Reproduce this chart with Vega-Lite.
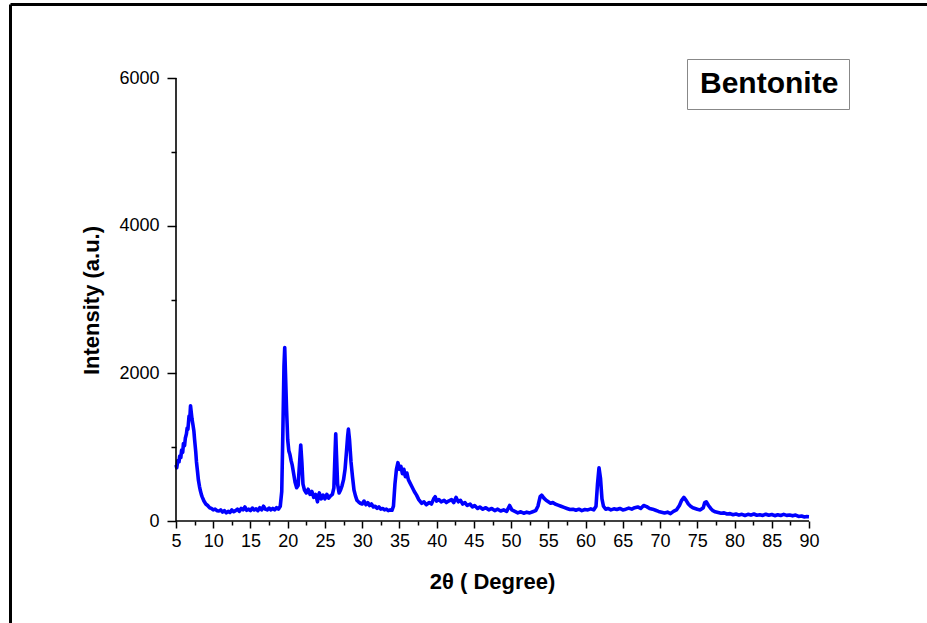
{
  "$schema": "https://vega.github.io/schema/vega-lite/v6.json",
  "width": 917,
  "height": 619,
  "autosize": {"type": "none"},
  "padding": {"left": 10, "top": 4, "right": 0, "bottom": 0},
  "background": "white",
  "config": {"view": {"stroke": null}, "font": "Liberation Sans", "axis": {"grid": false}},
  "datasets": {
    "xrd": [
      {"t":5.0,"i":760},{"t":5.1,"i":720},{"t":5.25,"i":820},{"t":5.4,"i":800},{"t":5.5,"i":880},{"t":5.65,"i":860},{"t":5.75,"i":960},{"t":5.9,"i":930},{"t":6.0,"i":1050},{"t":6.15,"i":1020},{"t":6.25,"i":1120},{"t":6.4,"i":1180},{"t":6.5,"i":1260},{"t":6.6,"i":1240},{"t":6.75,"i":1420},{"t":6.85,"i":1380},{"t":6.95,"i":1560},{"t":7.05,"i":1470},{"t":7.15,"i":1380},{"t":7.25,"i":1320},{"t":7.4,"i":1220},{"t":7.5,"i":1100},{"t":7.65,"i":940},{"t":7.75,"i":800},{"t":7.9,"i":660},{"t":8.0,"i":560},{"t":8.15,"i":470},{"t":8.25,"i":420},{"t":8.4,"i":360},{"t":8.5,"i":330},{"t":8.75,"i":270},{"t":9.0,"i":230},{"t":9.25,"i":210},{"t":9.5,"i":180},{"t":9.75,"i":170},{"t":10.0,"i":150},{"t":10.25,"i":160},{"t":10.5,"i":140},{"t":10.75,"i":135},{"t":11.0,"i":150},{"t":11.25,"i":120},{"t":11.5,"i":140},{"t":11.75,"i":110},{"t":12.0,"i":130},{"t":12.25,"i":115},{"t":12.5,"i":150},{"t":12.75,"i":125},{"t":13.0,"i":140},{"t":13.25,"i":160},{"t":13.5,"i":130},{"t":13.75,"i":170},{"t":14.0,"i":150},{"t":14.25,"i":190},{"t":14.5,"i":145},{"t":14.75,"i":160},{"t":15.0,"i":140},{"t":15.25,"i":175},{"t":15.5,"i":150},{"t":15.75,"i":165},{"t":16.0,"i":140},{"t":16.25,"i":180},{"t":16.5,"i":150},{"t":16.75,"i":200},{"t":17.0,"i":160},{"t":17.25,"i":150},{"t":17.5,"i":175},{"t":17.75,"i":150},{"t":18.0,"i":170},{"t":18.25,"i":150},{"t":18.5,"i":180},{"t":18.75,"i":160},{"t":19.0,"i":200},{"t":19.2,"i":400},{"t":19.35,"i":1200},{"t":19.5,"i":2100},{"t":19.6,"i":2350},{"t":19.7,"i":2000},{"t":19.85,"i":1500},{"t":20.0,"i":1100},{"t":20.15,"i":950},{"t":20.3,"i":900},{"t":20.45,"i":820},{"t":20.6,"i":760},{"t":20.8,"i":640},{"t":21.0,"i":520},{"t":21.2,"i":450},{"t":21.4,"i":480},{"t":21.6,"i":800},{"t":21.75,"i":1030},{"t":21.9,"i":800},{"t":22.05,"i":500},{"t":22.25,"i":420},{"t":22.5,"i":380},{"t":22.75,"i":430},{"t":23.0,"i":360},{"t":23.25,"i":400},{"t":23.5,"i":320},{"t":23.75,"i":360},{"t":24.0,"i":260},{"t":24.1,"i":330},{"t":24.25,"i":380},{"t":24.5,"i":300},{"t":24.75,"i":350},{"t":25.0,"i":300},{"t":25.25,"i":360},{"t":25.5,"i":310},{"t":25.75,"i":340},{"t":26.0,"i":360},{"t":26.2,"i":450},{"t":26.35,"i":900},{"t":26.45,"i":1180},{"t":26.55,"i":900},{"t":26.7,"i":500},{"t":26.9,"i":380},{"t":27.1,"i":420},{"t":27.3,"i":480},{"t":27.5,"i":560},{"t":27.7,"i":700},{"t":27.9,"i":950},{"t":28.05,"i":1150},{"t":28.15,"i":1245},{"t":28.3,"i":1100},{"t":28.5,"i":800},{"t":28.7,"i":600},{"t":28.9,"i":420},{"t":29.1,"i":340},{"t":29.3,"i":280},{"t":29.5,"i":260},{"t":29.75,"i":240},{"t":30.0,"i":230},{"t":30.25,"i":270},{"t":30.5,"i":220},{"t":30.75,"i":250},{"t":31.0,"i":210},{"t":31.25,"i":230},{"t":31.5,"i":190},{"t":31.75,"i":200},{"t":32.0,"i":170},{"t":32.25,"i":190},{"t":32.5,"i":160},{"t":32.75,"i":170},{"t":33.0,"i":150},{"t":33.25,"i":160},{"t":33.5,"i":140},{"t":33.75,"i":150},{"t":34.0,"i":145},{"t":34.2,"i":200},{"t":34.4,"i":500},{"t":34.6,"i":700},{"t":34.8,"i":790},{"t":35.0,"i":700},{"t":35.2,"i":740},{"t":35.4,"i":640},{"t":35.6,"i":700},{"t":35.8,"i":600},{"t":36.0,"i":650},{"t":36.2,"i":560},{"t":36.4,"i":520},{"t":36.7,"i":460},{"t":37.0,"i":400},{"t":37.3,"i":350},{"t":37.6,"i":290},{"t":38.0,"i":240},{"t":38.3,"i":260},{"t":38.6,"i":220},{"t":39.0,"i":250},{"t":39.3,"i":230},{"t":39.6,"i":300},{"t":39.8,"i":330},{"t":40.0,"i":270},{"t":40.3,"i":290},{"t":40.6,"i":260},{"t":41.0,"i":280},{"t":41.3,"i":250},{"t":41.6,"i":270},{"t":42.0,"i":290},{"t":42.3,"i":250},{"t":42.6,"i":320},{"t":42.9,"i":260},{"t":43.2,"i":280},{"t":43.5,"i":230},{"t":43.8,"i":250},{"t":44.1,"i":210},{"t":44.5,"i":230},{"t":44.8,"i":190},{"t":45.1,"i":210},{"t":45.5,"i":170},{"t":45.8,"i":190},{"t":46.2,"i":160},{"t":46.6,"i":180},{"t":47.0,"i":150},{"t":47.4,"i":170},{"t":47.8,"i":140},{"t":48.2,"i":160},{"t":48.6,"i":135},{"t":49.0,"i":150},{"t":49.4,"i":130},{"t":49.8,"i":210},{"t":50.1,"i":150},{"t":50.5,"i":130},{"t":50.9,"i":110},{"t":51.3,"i":125},{"t":51.7,"i":105},{"t":52.1,"i":120},{"t":52.5,"i":110},{"t":52.9,"i":125},{"t":53.3,"i":140},{"t":53.6,"i":200},{"t":53.9,"i":330},{"t":54.1,"i":350},{"t":54.4,"i":310},{"t":54.7,"i":280},{"t":55.0,"i":260},{"t":55.3,"i":240},{"t":55.6,"i":250},{"t":55.9,"i":230},{"t":56.3,"i":215},{"t":56.7,"i":200},{"t":57.1,"i":185},{"t":57.5,"i":170},{"t":57.9,"i":155},{"t":58.3,"i":160},{"t":58.7,"i":145},{"t":59.1,"i":160},{"t":59.5,"i":140},{"t":59.9,"i":155},{"t":60.3,"i":150},{"t":60.7,"i":165},{"t":61.1,"i":150},{"t":61.4,"i":200},{"t":61.6,"i":500},{"t":61.8,"i":720},{"t":62.0,"i":580},{"t":62.2,"i":300},{"t":62.4,"i":200},{"t":62.7,"i":160},{"t":63.0,"i":170},{"t":63.4,"i":150},{"t":63.8,"i":165},{"t":64.2,"i":155},{"t":64.6,"i":170},{"t":65.0,"i":150},{"t":65.4,"i":160},{"t":65.8,"i":175},{"t":66.2,"i":160},{"t":66.6,"i":180},{"t":67.0,"i":190},{"t":67.4,"i":170},{"t":67.8,"i":210},{"t":68.2,"i":195},{"t":68.6,"i":170},{"t":69.0,"i":160},{"t":69.4,"i":145},{"t":69.8,"i":130},{"t":70.2,"i":120},{"t":70.6,"i":110},{"t":71.0,"i":120},{"t":71.4,"i":100},{"t":71.8,"i":130},{"t":72.2,"i":150},{"t":72.6,"i":210},{"t":72.9,"i":280},{"t":73.2,"i":320},{"t":73.5,"i":280},{"t":73.8,"i":230},{"t":74.1,"i":200},{"t":74.4,"i":180},{"t":74.7,"i":170},{"t":75.0,"i":160},{"t":75.4,"i":150},{"t":75.8,"i":180},{"t":76.0,"i":250},{"t":76.2,"i":260},{"t":76.5,"i":210},{"t":76.8,"i":170},{"t":77.1,"i":140},{"t":77.4,"i":125},{"t":77.8,"i":115},{"t":78.2,"i":105},{"t":78.6,"i":110},{"t":79.0,"i":95},{"t":79.4,"i":100},{"t":79.8,"i":85},{"t":80.2,"i":95},{"t":80.6,"i":80},{"t":81.0,"i":90},{"t":81.4,"i":75},{"t":81.8,"i":90},{"t":82.2,"i":80},{"t":82.6,"i":95},{"t":83.0,"i":78},{"t":83.4,"i":85},{"t":83.8,"i":75},{"t":84.2,"i":92},{"t":84.6,"i":78},{"t":85.0,"i":88},{"t":85.4,"i":72},{"t":85.8,"i":85},{"t":86.2,"i":75},{"t":86.6,"i":90},{"t":87.0,"i":76},{"t":87.4,"i":82},{"t":87.8,"i":70},{"t":88.2,"i":80},{"t":88.6,"i":62},{"t":89.0,"i":68},{"t":89.4,"i":55},{"t":89.7,"i":60},{"t":90.0,"i":58}
    ]
  },
  "layer": [
    {
      "data": {"name": "xrd"},
      "mark": {"type": "line", "strokeWidth": 3.6, "strokeJoin": "round"},
      "encoding": {
        "x": {
          "field": "t", "type": "quantitative",
          "scale": {"domain": [-17.2907, 105.845], "nice": false, "zero": false},
          "axis": {
            "orient": "bottom", "offset": -102, "domain": false,
            "values": [5,10,15,20,25,30,35,40,45,50,55,60,65,70,75,80,85,90],
            "tickSize": 7, "tickWidth": 1.5, "tickColor": "black",
            "labelFontSize": 18, "labelColor": "black", "labelPadding": 4, "labelFont": "Liberation Sans",
            "labelFlush": false, "labelOverlap": false, "format": "d",
            "title": "2θ ( Degree)", "titleFontSize": 22, "titleFontWeight": "bold", "titleColor": "black", "titleFont": "Liberation Sans",
            "titleX": 482, "titleY": 60, "titleBaseline": "middle", "titleAlign": "center"
          }
        },
        "y": {
          "field": "i", "type": "quantitative",
          "scale": {"domain": [-1381.49, 7002.26], "nice": false, "zero": false},
          "axis": {
            "orient": "left", "offset": -166, "domain": false,
            "values": [0, 2000, 4000, 6000],
            "tickSize": 9, "tickWidth": 1.5, "tickColor": "black",
            "labelFontSize": 18, "labelColor": "black", "labelPadding": 8, "labelFont": "Liberation Sans",
            "labelFlush": false, "labelOverlap": false, "format": "d",
            "title": "Intensity (a.u.)", "titleFontSize": 22, "titleFontWeight": "bold", "titleColor": "black", "titleFont": "Liberation Sans",
            "titleX": -85, "titleY": 296, "titleAngle": 270, "titleBaseline": "middle", "titleAlign": "center"
          }
        },
        "color": {
          "datum": "Bentonite", "type": "nominal",
          "scale": {"domain": ["Bentonite"], "range": ["#0000ff"]},
          "legend": {
            "title": null, "orient": "none", "legendX": 677, "legendY": 55,
            "symbolSize": 0, "symbolStrokeWidth": 0, "symbolOpacity": 0, "labelOffset": -27,
            "labelFontSize": 30, "labelFontWeight": "bold", "labelColor": "black", "labelFont": "Liberation Sans", "labelLimit": 0,
            "padding": 10, "strokeColor": "#888888", "fillColor": "white"
          }
        }
      }
    },
    {
      "data": {"values": [{}]},
      "mark": {"type": "rule", "color": "black", "strokeWidth": 1.6},
      "encoding": {
        "x": {
          "datum": 5, "type": "quantitative",
          "scale": {"domain": [-17.2907, 105.845], "nice": false, "zero": false},
          "axis": {
            "orient": "bottom", "offset": -102, "domain": false, "labels": false, "title": null,
            "values": [7.5,12.5,17.5,22.5,27.5,32.5,37.5,42.5,47.5,52.5,57.5,62.5,67.5,72.5,77.5,82.5,87.5],
            "tickSize": 4, "tickWidth": 1.5, "tickColor": "black"
          }
        },
        "x2": {"datum": 90},
        "y": {
          "datum": 0, "type": "quantitative",
          "scale": {"domain": [-1381.49, 7002.26], "nice": false, "zero": false},
          "axis": {
            "orient": "left", "offset": -166, "domain": false, "labels": false, "title": null,
            "values": [1000, 3000, 5000],
            "tickSize": 5, "tickWidth": 1.5, "tickColor": "black"
          }
        }
      }
    },
    {
      "data": {"values": [{}]},
      "mark": {"type": "rule", "color": "black", "strokeWidth": 1.6},
      "encoding": {
        "x": {
          "datum": 5, "type": "quantitative",
          "scale": {"domain": [-17.2907, 105.845], "nice": false, "zero": false},
          "axis": {
            "orient": "top", "domain": true, "domainColor": "black", "domainWidth": 3,
            "ticks": false, "labels": false, "title": null
          }
        },
        "y": {
          "datum": 0, "type": "quantitative",
          "scale": {"domain": [-1381.49, 7002.26], "nice": false, "zero": false},
          "axis": {
            "orient": "left", "domain": true, "domainColor": "black", "domainWidth": 3,
            "ticks": false, "labels": false, "title": null
          }
        },
        "y2": {"datum": 6000}
      }
    }
  ],
  "resolve": {"axis": {"x": "independent", "y": "independent"}}
}
